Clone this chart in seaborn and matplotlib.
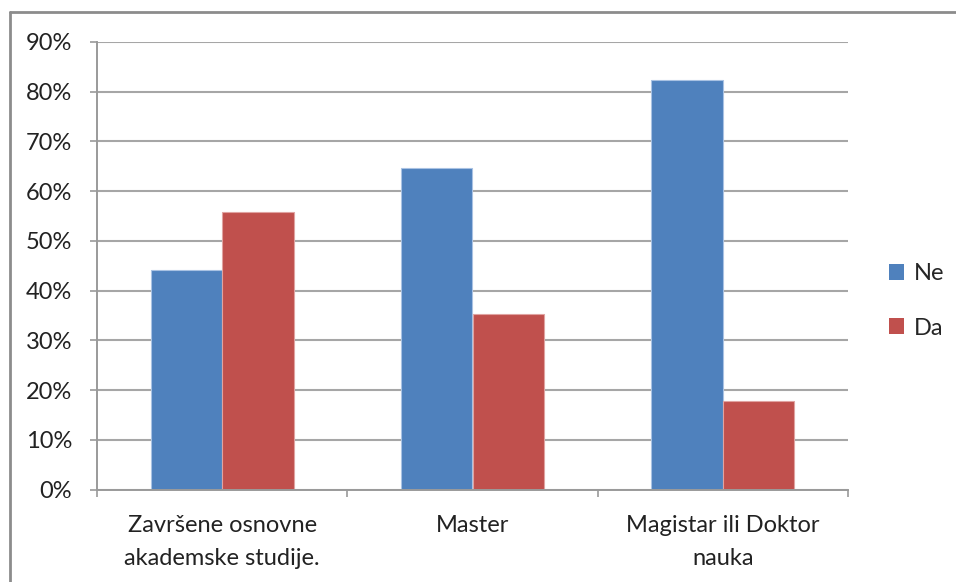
import matplotlib
matplotlib.use("Agg")
import matplotlib.pyplot as plt
from matplotlib.lines import Line2D
from matplotlib.patches import Patch
from matplotlib.ticker import FixedLocator
import seaborn as sns
import pandas as pd

# Survey results by level of education
categories = ["Završene osnovne\nakademske studije.", "Master", "Magistar ili Doktor\nnauka"]
series = ["Ne", "Da"]
ne_values = [44.2, 64.7, 82.3]
da_values = [55.8, 35.3, 17.7]
y_ticks = [0, 10, 20, 30, 40, 50, 60, 70, 80, 90]
y_tick_labels = [f"{v}%" for v in y_ticks]

colors = {"Ne": "#4F81BD", "Da": "#C0504D"}

df = pd.DataFrame({
    "kategorija": categories * 2,
    "odgovor": ["Ne"] * len(categories) + ["Da"] * len(categories),
    "procenat": ne_values + da_values,
})

sns.set_theme(style="white")
plt.rcParams["font.family"] = ["Lato", "DejaVu Sans"]

FS = 17

fig = plt.figure(figsize=(9.56, 5.82), dpi=100)
ax = fig.add_axes([97 / 956, 1 - 489.5 / 582, (848 - 97) / 956, (489.5 - 42) / 582])

sns.barplot(
    data=df, x="kategorija", y="procenat", hue="odgovor",
    hue_order=series, palette=colors, order=categories,
    width=0.57, ax=ax, legend=False, saturation=1,
    edgecolor="#A9C2E3", linewidth=0.8,
)
# lighter edge on the red bars
for patch in ax.patches:
    fc = patch.get_facecolor()
    if fc[0] > 0.6:
        patch.set_edgecolor("#E0A3A1")

ax.set_ylim(0, 90)
ax.set_xlim(-0.5, len(categories) - 0.5)
ax.yaxis.set_major_locator(FixedLocator(y_ticks))
ax.set_yticklabels(y_tick_labels, fontsize=FS, color="#222222")
ax.tick_params(axis="y", length=5, width=1.2, color="#9A9A9A", pad=13, left=True)
ax.tick_params(axis="x", length=0, pad=18, labelsize=FS, labelcolor="#222222")
for lbl in ax.get_xticklabels():
    lbl.set_linespacing(1.75)
ax.set_xlabel("")
ax.set_ylabel("")

# horizontal gridlines
ax.grid(axis="y", color="#A6A6A6", linewidth=1.5)
ax.set_axisbelow(True)

for side in ["top", "right"]:
    ax.spines[side].set_visible(False)
for side in ["left", "bottom"]:
    ax.spines[side].set_color("#9A9A9A")
    ax.spines[side].set_linewidth(1.4)

# category separator ticks below the baseline
ax.set_xticks([0, 1, 2], minor=False)
ax.set_xticks([-0.5, 0.5, 1.5, 2.5], minor=True)
ax.tick_params(axis="x", which="minor", length=5, width=1.2, color="#9A9A9A", bottom=True)

# legend
handles = [Patch(facecolor=colors[s], edgecolor="none") for s in series]
fig.legend(
    handles, series, loc="center left", bbox_to_anchor=(889 / 956, 1 - 301 / 582),
    frameon=False, fontsize=FS, handlelength=0.65, handleheight=0.65,
    handletextpad=0.4, labelspacing=1.4, borderpad=0, borderaxespad=0,
)

# outer chart frame (top and left edges)
fig.add_artist(Line2D([10 / 956, 1.0], [1 - 12 / 582, 1 - 12 / 582],
                      transform=fig.transFigure, color="#8C8C8C", linewidth=2))
fig.add_artist(Line2D([10 / 956, 10 / 956], [0.0, 1 - 12 / 582],
                      transform=fig.transFigure, color="#8C8C8C", linewidth=2))

fig.savefig("out.png", dpi=100, facecolor="white")
